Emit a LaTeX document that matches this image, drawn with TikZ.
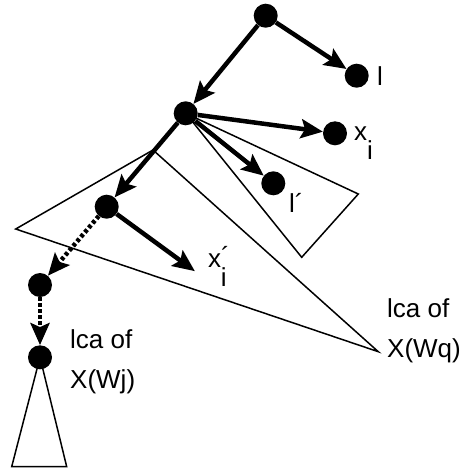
\documentclass[tikz,border=0pt]{standalone}
\usepackage{fontspec}
\setmainfont{Liberation Sans}
\usetikzlibrary{arrows.meta}

\tikzset{
  vtx/.style={circle,fill=black,inner sep=0pt,minimum size=24pt},
  treeedge/.style={line width=4.5pt,-{Stealth[length=22pt,width=19pt,inset=4pt]}},
  pathedge/.style={treeedge,dash pattern=on 3.5pt off 2.5pt},
  region/.style={line width=1.5pt,line join=miter},
  lbl/.style={inner sep=0pt,anchor=base west,font=\fontsize{26}{30}\selectfont},
  lca/.style={inner sep=0pt,anchor=base west,align=left,font=\fontsize{26}{40}\selectfont}
}
\newcommand{\subidx}{\raisebox{-19pt}{i}}

\begin{document}
\begin{tikzpicture}[x=1pt,y=-1pt]
  \useasboundingbox (0,0) rectangle (465,472);
  % subtrees
  \draw[region] (15.7,229) -- (153,150) -- (378.3,351.7) -- cycle;
  \draw[region] (185.7,113.3) -- (358.3,194) -- (301.7,257.3) -- cycle;
  \draw[region] (40,357.3) -- (11.7,466.7) -- (66.7,466.7) -- cycle;
  % vertices
  \node[vtx] (r) at (265.7,15.7) {};
  \node[vtx] (l) at (356.7,75.7) {};
  \node[vtx] (v) at (185.7,113.3) {};
  \node[vtx] (xi) at (335,133.3) {};
  \node[vtx] (lp) at (273.3,183.3) {};
  \node[vtx] (c) at (106.7,206.7) {};
  \node[vtx] (d) at (40,285) {};
  \node[vtx] (e) at (40,357.3) {};
  \coordinate (xip) at (193.3,270);
  % edges
  \draw[treeedge] (r) -- (l);
  \draw[treeedge] (r) -- (v);
  \draw[treeedge] (v) -- (xi);
  \draw[treeedge] (v) -- (lp);
  \draw[treeedge] (v) -- (c);
  \draw[treeedge,shorten >=-2pt] (c) -- (xip);
  \draw[pathedge] (c) -- (d);
  \draw[pathedge] (d) -- (e);
  % labels
  \node[lbl] (ltxt) at (377,85) {l};
  \node[lbl] (xitxt) at (354,140) {x\subidx};
  \node[lbl] (xiptxt) at (208,267) {x\raisebox{2pt}{´}\kern-9pt\subidx};
  \node[lbl] (lptxt) at (289,212) {l´};
  \node[lca] (lcaq) at (387,357) {lca of\\X(Wq)};
  \node[lca] (lcaj) at (70,388) {lca of\\X(Wj)};
\end{tikzpicture}
\end{document}
